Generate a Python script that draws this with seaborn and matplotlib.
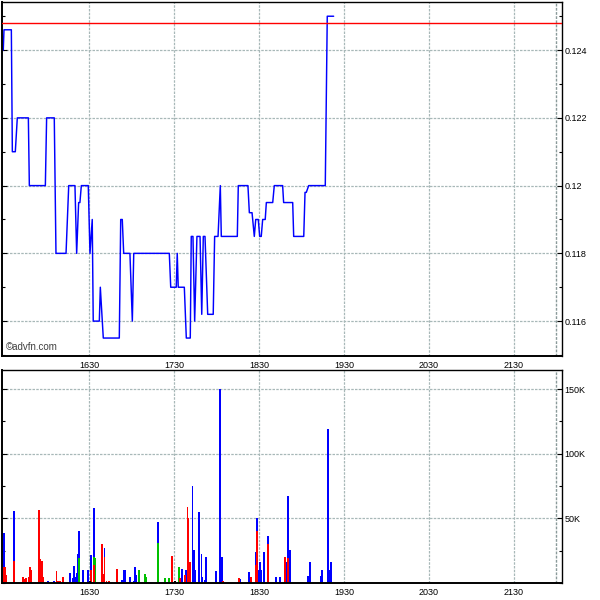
import numpy as np
import pandas as pd
import matplotlib
matplotlib.use("Agg")
import matplotlib.pyplot as plt
from matplotlib.ticker import FixedLocator, FixedFormatter, MultipleLocator
import seaborn as sns

# ---- data (time = minutes after 15:30) ----
price_t = [-0.5, 0, 5.2, 5.9, 8.0, 9.4, 17.2, 17.9, 29.2, 30.1, 35.5, 36.7, 43.8, 45.7, 50.1,
           51.3, 52.7, 53.6, 54.6, 59.5, 60.7, 62.3, 63.0, 67.3, 68.0, 70.1, 81.4, 82.4, 83.5,
           84.5, 88.9, 90.6, 91.6, 116.7, 117.7, 121.6, 122.3, 123.0, 127.3, 128.7, 131.5,
           132.2, 133.4, 134.6, 136.2, 138.4, 139.6, 140.7, 141.9, 143.8, 147.7, 148.7, 151.1,
           152.7, 153.4, 164.7, 165.4, 172.2, 173.2, 175.1, 176.7, 177.7, 179.5, 180.5, 181.6,
           182.6, 184.4, 185.2, 189.7, 190.8, 196.7, 197.4, 203.8, 204.5, 211.6, 212.5, 213.4,
           215.1, 226.8, 228.2, 232.7]
price_v = [0.124, 0.1246, 0.1246, 0.121, 0.121, 0.122, 0.122, 0.120, 0.120, 0.122, 0.122, 0.118,
           0.118, 0.120, 0.120, 0.118, 0.1195, 0.1195, 0.120, 0.120, 0.118, 0.119, 0.116, 0.116,
           0.117, 0.1155, 0.1155, 0.119, 0.119, 0.118, 0.118, 0.116, 0.118, 0.118, 0.117, 0.117,
           0.118, 0.117, 0.117, 0.1155, 0.1155, 0.1185, 0.1185, 0.116, 0.1185, 0.1185, 0.1162,
           0.1185, 0.1185, 0.1162, 0.1162, 0.1185, 0.1185, 0.120, 0.1185, 0.1185, 0.120, 0.120,
           0.1192, 0.1192, 0.1185, 0.119, 0.119, 0.1185, 0.1185, 0.119, 0.119, 0.1195, 0.1195,
           0.120, 0.120, 0.1195, 0.1195, 0.1185, 0.1185, 0.1198, 0.1198, 0.120, 0.120, 0.125, 0.125]
prev_close = 0.1248

red_t = [-0.35, 0.7, 1.4, 6.6, 13.2, 14.1, 15.0, 17.4, 18.1, 18.8, 24.2, 25.4, 26.3, 27.5, 36.7,
         37.6, 39.0, 41.2, 60.9, 63.0, 68.7, 69.9, 70.6, 72.0, 73.6, 79.3, 118.1, 123.8, 127.3,
         129.2, 129.9, 130.8, 144.2, 154.1, 165.4, 173.9, 177.4, 178.1, 185.9, 197.9, 200.0]
red_v = [12, 12, 6, 17, 4.4, 3, 4, 5, 12, 10, 56.6, 18.6, 17, 4.4, 9.3, 1.5, 1.5, 5, 10, 14, 30,
         7, 20, 1.5, 1.5, 11, 21, 4, 6, 59, 50, 16, 1, 1.5, 4, 4.5, 14, 40, 30, 20, 19]
green_t = [52.9, 63.0, 63.8, 94.8, 99.0, 99.8, 108.2, 113.2, 116.0, 123.0]
green_v = [19.6, 6, 19.6, 10, 7, 5, 31, 4, 4, 12]
blue_t = [-0.35, 6.6, 30.6, 34.8, 46.1, 48.5, 49.2, 49.9, 51.3, 52.0, 52.9, 55.5, 58.8, 60.9,
          63.0, 70.6, 82.8, 84.2, 84.9, 88.9, 91.3, 92.0, 92.7, 108.2, 125.2, 128.0, 132.7,
          134.1, 134.8, 137.2, 139.1, 139.8, 141.2, 142.1, 149.2, 152.0, 153.4, 166.1, 172.4,
          177.4, 178.1, 179.5, 180.2, 180.9, 183.0, 185.9, 191.5, 194.3, 199.3, 200.0, 201.4,
          214.1, 215.5, 223.3, 224.0, 228.2, 228.9, 230.4]
blue_v = [26.5, 39, 1.5, 1.5, 8, 4, 13, 5, 8, 22.5, 20.4, 10, 10, 11.7, 38, 7, 2, 10, 10, 5, 1.5,
          12, 6, 16, 11, 10, 75, 25.6, 10, 55, 22.5, 5, 2, 20, 9, 150, 20, 3, 8.6, 10, 10, 10,
          16, 10, 24, 6, 4.5, 5, 16, 48, 25.6, 5.4, 16, 5.4, 10, 119, 10, 16]
black_t = [60.2, 120.2]
black_v = [1.5, 1.5]

x_ticks = [60, 120, 180, 240, 300, 360]
x_labels = ["1630", "1730", "1830", "1930", "2030", "2130"]
session_end = 390
p_ticks = [0.116, 0.118, 0.120, 0.122, 0.124]
p_labels = ["0.116", "0.118", "0.12", "0.122", "0.124"]
v_ticks = [50000, 100000, 150000]
v_labels = ["50K", "100K", "150K"]

# ---- volume table ----
def series(t, v, name):
    return pd.Series(np.array(v, float) * 1000, index=pd.Index(t, name="t"), name=name)

vol = pd.concat([series(red_t, red_v, "r"), series(green_t, green_v, "g"),
                 series(blue_t, blue_v, "b"), series(black_t, black_v, "k")], axis=1).fillna(0)
vol = vol.sort_index().reset_index()
vol["h_blue"] = vol["r"] + vol["g"] + vol["b"]
vol["h_green"] = vol["r"] + vol["g"]
vol["h_red"] = vol["r"]
vol["h_black"] = vol["k"]

# ---- style ----
sns.set_theme(style="white")
plt.rcParams["font.family"] = ["Liberation Sans", "DejaVu Sans"]

fig = plt.figure(figsize=(6, 6), dpi=100)
W, H = 600.0, 600.0
ax1 = fig.add_axes([2 / W, 1 - 356 / H, 560 / W, 354 / H])
ax2 = fig.add_axes([2 / W, 1 - 583 / H, 560 / W, 213 / H])

grid_kw = dict(color="#a8b8b8", lw=0.9, ls=(0, (2, 1)))
XLIM = (-1.4, 393.9)
BAR_MIN = 0.65  # bar width in minutes

# price
sns.lineplot(x=price_t, y=price_v, sort=False, estimator=None, color="#0000ff", lw=1.05, ax=ax1)
ax1.axhline(prev_close, color="#ff0000", lw=1.0, zorder=3)
ax1.set_xlim(*XLIM)
ax1.set_ylim(0.11497, 0.12542)

# volume (stacked look by overlaying)
for col, c in [("h_blue", "#0000ff"), ("h_green", "#00c000"), ("h_red", "#ff0000"), ("h_black", "#000000")]:
    sub = vol.loc[vol[col] > 0, ["t", col]]
    tv = np.sort(sub["t"].unique())
    mind = np.diff(tv).min() if len(tv) > 1 else 1.0
    sns.barplot(data=sub, x="t", y=col, native_scale=True, color=c, saturation=1,
                width=BAR_MIN / mind, errorbar=None, linewidth=0.5, edgecolor=c,
                antialiased=False, ax=ax2)
ax2.set_xlim(*XLIM)
ax2.set_ylim(0, 164700)

for ax, yt, yl, minor in [(ax1, p_ticks, p_labels, 0.001), (ax2, v_ticks, v_labels, 25000)]:
    ax.set_xlabel("")
    ax.set_ylabel("")
    ax.xaxis.set_major_locator(FixedLocator(x_ticks))
    ax.xaxis.set_major_formatter(FixedFormatter(x_labels))
    ax.yaxis.set_major_locator(FixedLocator(yt))
    ax.yaxis.set_major_formatter(FixedFormatter(yl))
    ax.yaxis.set_minor_locator(MultipleLocator(minor))
    ax.tick_params(axis="x", length=0, pad=3.5, labelsize=6.5, colors="black")
    ax.tick_params(axis="y", which="both", left=True, right=True, labelleft=False,
                   labelright=True, direction="in", labelsize=6.5, pad=2, colors="black")
    ax.tick_params(axis="y", which="major", length=3.5, width=0.8)
    ax.tick_params(axis="y", which="minor", length=2, width=0.8)
    for y in yt:
        ax.axhline(y, zorder=0, **grid_kw)
    for x in x_ticks:
        ax.axvline(x, zorder=0, **grid_kw)
    ax.axvline(session_end, color="#8a9a9a", lw=1.0, ls=(0, (2, 1)), zorder=0)
    for s in ax.spines.values():
        s.set_color("black")
        s.set_linewidth(1.0)
    ax.spines["left"].set_linewidth(1.4)
    ax.spines["bottom"].set_linewidth(1.4)
    ax.set_facecolor("white")

ax1.text(4 / 560, 6 / 354, "\u00a9advfn.com", transform=ax1.transAxes, fontsize=7,
         color="#404040", ha="left", va="baseline")

fig.savefig("out.png", dpi=100, facecolor="white")
